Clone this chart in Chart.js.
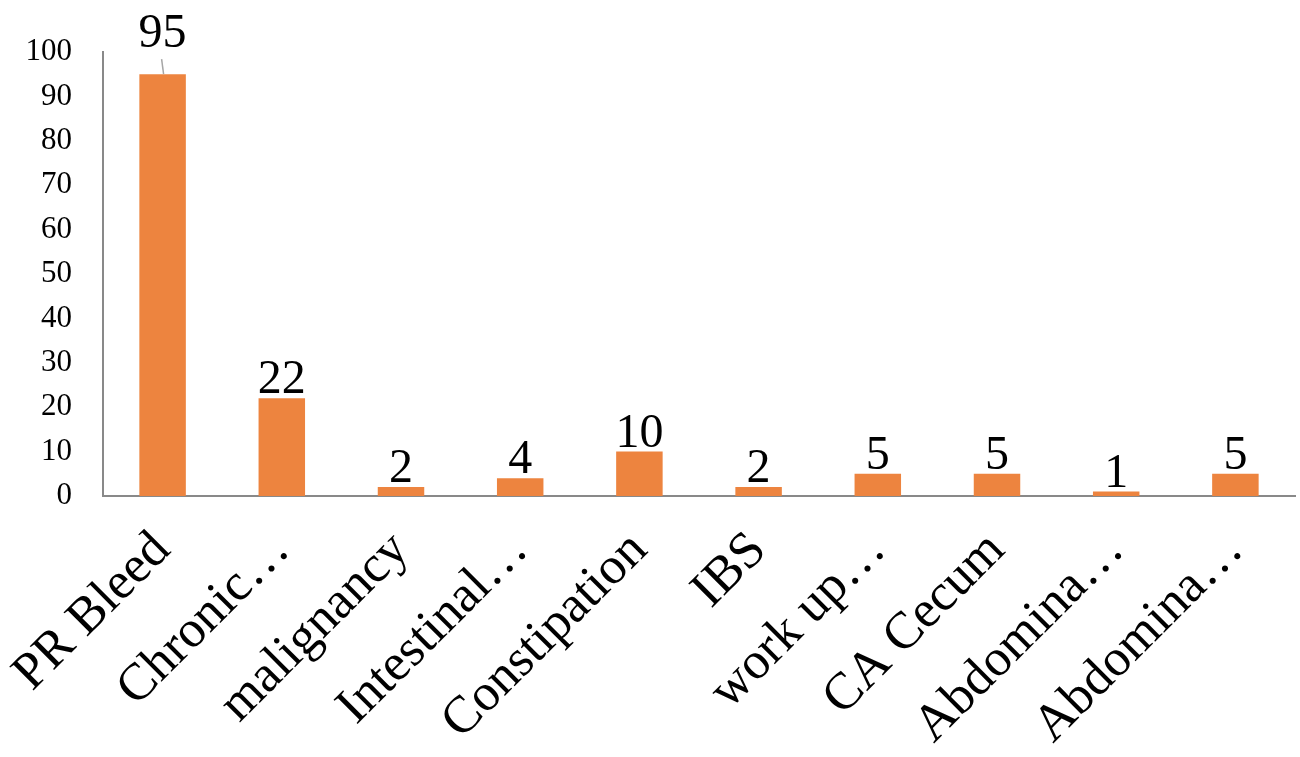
<!DOCTYPE html>
<html>
<head>
<meta charset="utf-8">
<script src="https://cdn.jsdelivr.net/npm/chart.js@4.4.1/dist/chart.umd.min.js"></script>
<style>
  body { margin: 0; background: #fff; }
  #wrap { width: 1300px; height: 757px; }
</style>
</head>
<body>
<div id="wrap"><canvas id="grafica"></canvas></div>
<script>
// categorias y valores
const categorias = ['PR Bleed', 'Chronic…', 'malignancy', 'Intestinal…', 'Constipation',
                    'IBS', 'work up…', 'CA Cecum', 'Abdomina…', 'Abdomina…'];
const valores = [95, 22, 2, 4, 10, 2, 5, 5, 1, 5];
const ticksY = [0, 10, 20, 30, 40, 50, 60, 70, 80, 90, 100];

const fuente = "'Liberation Serif', serif";

// etiquetas de valor encima de cada barra
const etiquetas = {
    id: 'etiquetas',
    afterDatasetsDraw(chart) {
        const c = chart.ctx;
        const meta = chart.getDatasetMeta(0);
        c.save();
        c.font = '48px ' + fuente;
        c.fillStyle = '#000';
        c.textAlign = 'center';
        c.textBaseline = 'alphabetic';
        meta.data.forEach(function (bar, i) {
            var y = bar.y - 5;
            if (i === 0) {
                // la etiqueta del primero va mas arriba con linea guia
                y = bar.y - 27;
                c.strokeStyle = '#a6a6a6';
                c.lineWidth = 1.5;
                c.beginPath();
                c.moveTo(bar.x - 1, bar.y - 15);
                c.lineTo(bar.x + 1, bar.y);
                c.stroke();
            }
            c.fillText(String(valores[i]), bar.x, y);
        });
        c.restore();
    }
};

const grafica = new Chart(document.getElementById('grafica'), {
    type: 'bar',
    data: {
        labels: categorias,
        datasets: [{
            data: valores,
            backgroundColor: '#ED843F',
            categoryPercentage: 1,
            barPercentage: 0.39
        }]
    },
    options: {
        responsive: true,
        maintainAspectRatio: false,
        animation: false,
        layout: { padding: { top: 52, right: 5, left: 0, bottom: 0 } },
        plugins: { legend: { display: false }, tooltip: { enabled: false } },
        scales: {
            x: {
                grid: { display: false },
                border: { color: '#898989', width: 2 },
                ticks: {
                    color: '#000',
                    font: { family: fuente, size: 52 },
                    maxRotation: 45, minRotation: 45,
                    autoSkip: false,
                    padding: 16
                },
                afterFit(scale) { scale.height = 261; }
            },
            y: {
                min: 0, max: 100,
                afterBuildTicks(scale) { scale.ticks = ticksY.map(v => ({ value: v })); },
                grid: { display: false },
                border: { color: '#898989', width: 2 },
                ticks: {
                    color: '#000',
                    font: { family: fuente, size: 31 },
                    padding: 23
                },
                afterFit(scale) { scale.width = 103; }
            }
        }
    },
    plugins: [etiquetas]
});
</script>
</body>
</html>
